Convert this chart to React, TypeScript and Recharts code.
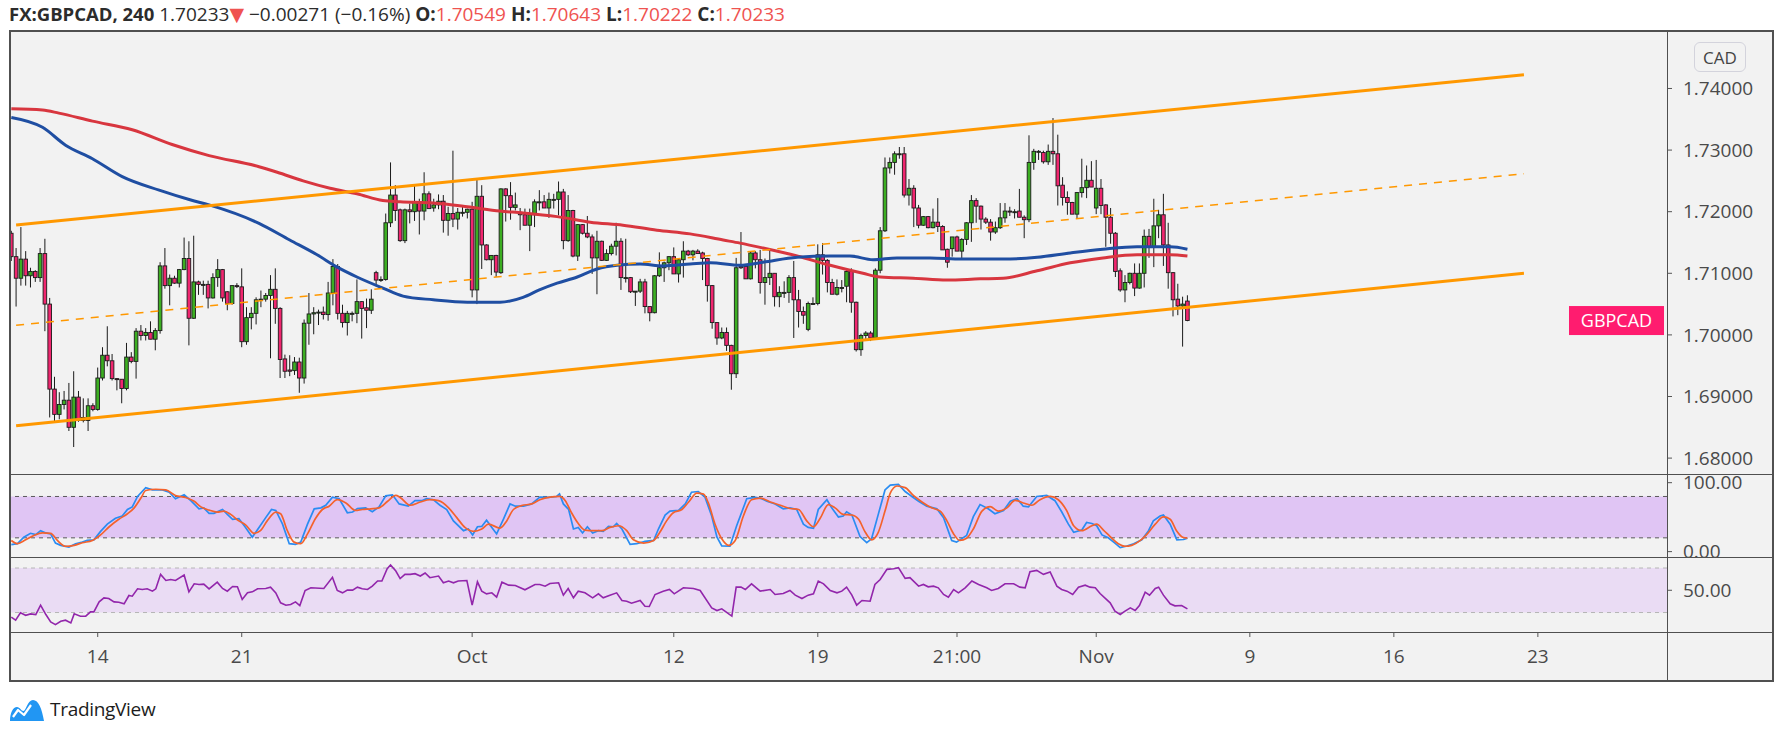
import React from 'react';
import {
  ComposedChart, Bar, Line, XAxis, YAxis, ReferenceLine, ReferenceArea,
} from 'recharts';

// FX:GBPCAD 4H candles (index 0 = first visible bar, Sep 10)
const OPEN = [
  1.7165, 1.7127, 1.7092, 1.7123, 1.7096, 1.7103, 1.7093, 1.7132, 1.7050, 1.6912,
  1.6871, 1.6887, 1.6894, 1.6850, 1.6899, 1.6866, 1.6861, 1.6885, 1.6879, 1.6930,
  1.6967, 1.6958, 1.6929, 1.6928, 1.6913, 1.6964, 1.6957, 1.7006, 1.6999, 1.7004,
  1.6993, 1.7007, 1.7112, 1.7080, 1.7092, 1.7084, 1.7106, 1.7124, 1.7027, 1.7086,
  1.7082, 1.7082, 1.7060, 1.7093, 1.7106, 1.7070, 1.7051, 1.7080, 1.7078, 1.6989,
  1.7028, 1.7035, 1.7058, 1.7058, 1.7064, 1.7074, 1.7043, 1.6961, 1.6943, 1.6942,
  1.6956, 1.6930, 1.7019, 1.7034, 1.7036, 1.7037, 1.7033, 1.7068, 1.7111, 1.7035,
  1.7020, 1.7035, 1.7035, 1.7054, 1.7044, 1.7040, 1.7101, 1.7089, 1.7090, 1.7182,
  1.7227, 1.7203, 1.7153, 1.7203, 1.7200, 1.7215, 1.7201, 1.7229, 1.7206, 1.7211,
  1.7217, 1.7186, 1.7197, 1.7188, 1.7199, 1.7199, 1.7204, 1.7073, 1.7225, 1.7146,
  1.7122, 1.7129, 1.7101, 1.7237, 1.7226, 1.7207, 1.7199, 1.7195, 1.7178, 1.7195,
  1.7216, 1.7216, 1.7206, 1.7220, 1.7220, 1.7232, 1.7153, 1.7202, 1.7128, 1.7179,
  1.7165, 1.7159, 1.7125, 1.7152, 1.7121, 1.7132, 1.7144, 1.7152, 1.7093, 1.7093,
  1.7071, 1.7071, 1.7086, 1.7046, 1.7036, 1.7096, 1.7109, 1.7117, 1.7127, 1.7099,
  1.7122, 1.7136, 1.7130, 1.7136, 1.7133, 1.7124, 1.7080, 1.7020, 1.6995, 1.7004,
  1.6983, 1.6937, 1.7111, 1.7111, 1.7091, 1.7133, 1.7122, 1.7085, 1.7093, 1.7100,
  1.7062, 1.7069, 1.7069, 1.7093, 1.7057, 1.7038, 1.7009, 1.7051, 1.7051, 1.7130,
  1.7121, 1.7085, 1.7066, 1.7077, 1.7079, 1.7103, 1.7053, 1.6976, 1.6999, 1.7003,
  1.6995, 1.7105, 1.7169, 1.7271, 1.7280, 1.7294, 1.7294, 1.7227, 1.7238, 1.7206,
  1.7178, 1.7192, 1.7174, 1.7183, 1.7176, 1.7139, 1.7140, 1.7159, 1.7136, 1.7155,
  1.7182, 1.7218, 1.7209, 1.7188, 1.7183, 1.7167, 1.7174, 1.7190, 1.7201, 1.7200,
  1.7201, 1.7191, 1.7187, 1.7280, 1.7298, 1.7296, 1.7281, 1.7298, 1.7294, 1.7243,
  1.7223, 1.7215, 1.7196, 1.7231, 1.7239, 1.7251, 1.7206, 1.7238, 1.7211, 1.7191,
  1.7165, 1.7104, 1.7073, 1.7085, 1.7100, 1.7076, 1.7100, 1.7160, 1.7143, 1.7177,
  1.7195, 1.7146, 1.7101, 1.7058, 1.7047, 1.70549,
];
const HIGH = [
  1.7169, 1.7141, 1.7175, 1.7136, 1.7109, 1.7105, 1.7141, 1.7156, 1.7060, 1.6932,
  1.6907, 1.6909, 1.6922, 1.6941, 1.6909, 1.6897, 1.6897, 1.6889, 1.6947, 1.6980,
  1.7014, 1.6969, 1.6930, 1.6928, 1.6987, 1.6972, 1.7011, 1.7016, 1.7011, 1.7022,
  1.7011, 1.7118, 1.7141, 1.7098, 1.7096, 1.7107, 1.7158, 1.7152, 1.7161, 1.7088,
  1.7088, 1.7088, 1.7100, 1.7123, 1.7107, 1.7071, 1.7080, 1.7084, 1.7108, 1.7045,
  1.7045, 1.7061, 1.7072, 1.7068, 1.7097, 1.7108, 1.7045, 1.6968, 1.6967, 1.6964,
  1.6963, 1.7025, 1.7068, 1.7045, 1.7041, 1.7046, 1.7086, 1.7123, 1.7115, 1.7049,
  1.7039, 1.7038, 1.7090, 1.7055, 1.7059, 1.7074, 1.7104, 1.7095, 1.7197, 1.7280,
  1.7243, 1.7205, 1.7205, 1.7213, 1.7243, 1.7221, 1.7264, 1.7233, 1.7221, 1.7228,
  1.7227, 1.7208, 1.7299, 1.7206, 1.7208, 1.7205, 1.7216, 1.7253, 1.7243, 1.7147,
  1.7129, 1.7130, 1.7238, 1.7238, 1.7248, 1.7231, 1.7206, 1.7205, 1.7205, 1.7220,
  1.7235, 1.7227, 1.7231, 1.7229, 1.7249, 1.7237, 1.7227, 1.7203, 1.7180, 1.7180,
  1.7193, 1.7163, 1.7169, 1.7153, 1.7139, 1.7148, 1.7182, 1.7157, 1.7156, 1.7094,
  1.7071, 1.7091, 1.7091, 1.7046, 1.7097, 1.7134, 1.7119, 1.7128, 1.7142, 1.7124,
  1.7152, 1.7138, 1.7138, 1.7139, 1.7135, 1.7125, 1.7081, 1.7020, 1.7012, 1.7012,
  1.6984, 1.7125, 1.7167, 1.7114, 1.7135, 1.7136, 1.7138, 1.7124, 1.7140, 1.7100,
  1.7079, 1.7087, 1.7097, 1.7120, 1.7073, 1.7046, 1.7054, 1.7061, 1.7147, 1.7149,
  1.7123, 1.7091, 1.7090, 1.7089, 1.7107, 1.7108, 1.7054, 1.7002, 1.7006, 1.7006,
  1.7108, 1.7175, 1.7288, 1.7288, 1.7298, 1.7305, 1.7305, 1.7253, 1.7243, 1.7211,
  1.7193, 1.7193, 1.7205, 1.7222, 1.7178, 1.7140, 1.7159, 1.7161, 1.7157, 1.7183,
  1.7227, 1.7222, 1.7210, 1.7191, 1.7188, 1.7184, 1.7214, 1.7214, 1.7208, 1.7204,
  1.7237, 1.7194, 1.7324, 1.7302, 1.7300, 1.7299, 1.7309, 1.7352, 1.7325, 1.7256,
  1.7233, 1.7216, 1.7232, 1.7286, 1.7275, 1.7282, 1.7284, 1.7253, 1.7212, 1.7206,
  1.7167, 1.7108, 1.7097, 1.7101, 1.7116, 1.7116, 1.7171, 1.7172, 1.7221, 1.7203,
  1.7229, 1.7182, 1.7102, 1.7083, 1.7062, 1.70643,
];
const LOW = [
  1.7120, 1.7046, 1.7080, 1.7080, 1.7077, 1.7086, 1.7086, 1.7006, 1.6866, 1.6859,
  1.6863, 1.6879, 1.6844, 1.6818, 1.6859, 1.6858, 1.6844, 1.6876, 1.6877, 1.6926,
  1.6949, 1.6926, 1.6910, 1.6889, 1.6910, 1.6954, 1.6929, 1.6991, 1.6991, 1.6993,
  1.6975, 1.7002, 1.7075, 1.7048, 1.7083, 1.7077, 1.7105, 1.6983, 1.7026, 1.7065,
  1.7065, 1.7043, 1.7059, 1.7078, 1.7054, 1.7040, 1.7049, 1.7076, 1.6980, 1.6984,
  1.7009, 1.7017, 1.7045, 1.7054, 1.6962, 1.7018, 1.6930, 1.6930, 1.6933, 1.6935,
  1.6906, 1.6921, 1.6984, 1.7001, 1.7016, 1.7025, 1.7023, 1.7048, 1.7025, 1.7012,
  1.6999, 1.7022, 1.7019, 1.6994, 1.7011, 1.7034, 1.7079, 1.7086, 1.7088, 1.7175,
  1.7185, 1.7151, 1.7149, 1.7181, 1.7185, 1.7163, 1.7186, 1.7205, 1.7200, 1.7204,
  1.7166, 1.7161, 1.7175, 1.7171, 1.7192, 1.7189, 1.7061, 1.7050, 1.7107, 1.7121,
  1.7097, 1.7094, 1.7099, 1.7184, 1.7187, 1.7202, 1.7170, 1.7178, 1.7136, 1.7175,
  1.7202, 1.7206, 1.7190, 1.7205, 1.7194, 1.7139, 1.7151, 1.7126, 1.7120, 1.7163,
  1.7157, 1.7099, 1.7066, 1.7120, 1.7120, 1.7129, 1.7129, 1.7073, 1.7085, 1.7068,
  1.7047, 1.7068, 1.7035, 1.7022, 1.7035, 1.7094, 1.7086, 1.7105, 1.7099, 1.7085,
  1.7093, 1.7128, 1.7121, 1.7132, 1.7089, 1.7054, 1.7010, 1.6984, 1.6993, 1.6974,
  1.6911, 1.6930, 1.7107, 1.7091, 1.7090, 1.7108, 1.7067, 1.7049, 1.7081, 1.7046,
  1.7045, 1.7060, 1.7052, 1.6995, 1.7012, 1.7018, 1.7006, 1.7049, 1.7048, 1.7098,
  1.7069, 1.7066, 1.7064, 1.7069, 1.7053, 1.7036, 1.6973, 1.6966, 1.6993, 1.6990,
  1.6993, 1.7100, 1.7167, 1.7262, 1.7260, 1.7286, 1.7223, 1.7210, 1.7175, 1.7173,
  1.7177, 1.7173, 1.7173, 1.7167, 1.7138, 1.7109, 1.7127, 1.7136, 1.7123, 1.7146,
  1.7151, 1.7182, 1.7171, 1.7180, 1.7153, 1.7164, 1.7172, 1.7182, 1.7193, 1.7189,
  1.7191, 1.7157, 1.7183, 1.7268, 1.7284, 1.7278, 1.7276, 1.7276, 1.7210, 1.7210,
  1.7195, 1.7196, 1.7189, 1.7223, 1.7222, 1.7240, 1.7196, 1.7196, 1.7143, 1.7148,
  1.7094, 1.7070, 1.7053, 1.7082, 1.7063, 1.7075, 1.7077, 1.7125, 1.7110, 1.7157,
  1.7112, 1.7075, 1.7030, 1.7032, 1.6981, 1.70222,
];
const CLOSE = [
  1.7127, 1.7092, 1.7123, 1.7096, 1.7103, 1.7093, 1.7132, 1.7050, 1.6912, 1.6871,
  1.6887, 1.6894, 1.6850, 1.6899, 1.6861, 1.6861, 1.6885, 1.6879, 1.6930, 1.6967,
  1.6958, 1.6929, 1.6928, 1.6913, 1.6964, 1.6957, 1.7006, 1.6999, 1.7004, 1.6993,
  1.7007, 1.7112, 1.7080, 1.7092, 1.7084, 1.7106, 1.7124, 1.7027, 1.7086, 1.7082,
  1.7082, 1.7060, 1.7093, 1.7106, 1.7060, 1.7051, 1.7080, 1.7079, 1.6989, 1.7028,
  1.7035, 1.7057, 1.7058, 1.7064, 1.7074, 1.7043, 1.6960, 1.6941, 1.6941, 1.6956,
  1.6930, 1.7019, 1.7034, 1.7036, 1.7037, 1.7033, 1.7068, 1.7111, 1.7035, 1.7020,
  1.7035, 1.7035, 1.7054, 1.7043, 1.7040, 1.7058, 1.7089, 1.7090, 1.7182, 1.7227,
  1.7202, 1.7153, 1.7203, 1.7200, 1.7215, 1.7201, 1.7229, 1.7205, 1.7211, 1.7217,
  1.7186, 1.7197, 1.7188, 1.7199, 1.7199, 1.7204, 1.7073, 1.7225, 1.7146, 1.7122,
  1.7129, 1.7102, 1.7237, 1.7226, 1.7207, 1.7211, 1.7195, 1.7178, 1.7195, 1.7216,
  1.7216, 1.7206, 1.7220, 1.7220, 1.7232, 1.7153, 1.7202, 1.7128, 1.7179, 1.7165,
  1.7159, 1.7125, 1.7152, 1.7121, 1.7132, 1.7144, 1.7152, 1.7093, 1.7093, 1.7070,
  1.7071, 1.7086, 1.7046, 1.7036, 1.7096, 1.7109, 1.7117, 1.7127, 1.7099, 1.7122,
  1.7136, 1.7130, 1.7136, 1.7132, 1.7124, 1.7080, 1.7020, 1.6995, 1.7004, 1.6983,
  1.6937, 1.7109, 1.7109, 1.7091, 1.7133, 1.7122, 1.7085, 1.7093, 1.7100, 1.7062,
  1.7069, 1.7069, 1.7093, 1.7057, 1.7038, 1.7032, 1.7051, 1.7051, 1.7130, 1.7121,
  1.7085, 1.7066, 1.7077, 1.7077, 1.7103, 1.7053, 1.6976, 1.6999, 1.7003, 1.6995,
  1.7105, 1.7169, 1.7271, 1.7280, 1.7294, 1.7294, 1.7227, 1.7238, 1.7206, 1.7178,
  1.7192, 1.7174, 1.7183, 1.7176, 1.7138, 1.7118, 1.7159, 1.7136, 1.7155, 1.7182,
  1.7218, 1.7209, 1.7188, 1.7183, 1.7167, 1.7174, 1.7190, 1.7201, 1.7200, 1.7200,
  1.7191, 1.7187, 1.7280, 1.7298, 1.7298, 1.7281, 1.7298, 1.7294, 1.7242, 1.7223,
  1.7215, 1.7196, 1.7231, 1.7239, 1.7251, 1.7240, 1.7238, 1.7210, 1.7191, 1.7165,
  1.7103, 1.7073, 1.7085, 1.7100, 1.7076, 1.7100, 1.7160, 1.7143, 1.7177, 1.7195,
  1.7146, 1.7101, 1.7057, 1.7047, 1.7050, 1.70233,
];

// moving averages, [bar index, price]
const MA_SLOW: [number, number][] = [
  [0, 1.7367], [6.5, 1.7365], [9.9, 1.7360], [16.9, 1.7347], [25.2, 1.7333], [33.5, 1.7309],
  [41.2, 1.7291], [51.6, 1.7273], [55.4, 1.7264], [60.8, 1.7250], [66.4, 1.7238], [72, 1.7229],
  [77.4, 1.7218], [81, 1.7216], [87.9, 1.7214], [95, 1.7208], [101.8, 1.7201], [106.6, 1.7198],
  [113.7, 1.7192], [120.6, 1.7183], [127.4, 1.7178], [134.5, 1.7170], [141.4, 1.7164], [148.3, 1.7154],
  [151.8, 1.7149], [156.6, 1.7141], [163.7, 1.7128], [170.6, 1.7113], [177.4, 1.7100], [181, 1.7094],
  [187.9, 1.7092], [194.9, 1.7089], [201.8, 1.7091], [206.6, 1.7092], [213.7, 1.7104], [220.6, 1.7117],
  [227.4, 1.7125], [234.5, 1.7130], [241.4, 1.7130], [245, 1.7128],
];
const MA_FAST: [number, number][] = [
  [0, 1.7353], [6.5, 1.7337], [11.3, 1.7308], [16.9, 1.7286], [23.1, 1.7257], [30.8, 1.7235],
  [37.4, 1.7219], [41.2, 1.7211], [51.6, 1.7181], [58, 1.7154], [63.7, 1.7130], [67.9, 1.7110],
  [72, 1.7094], [77.4, 1.7076], [81.6, 1.7063], [87.9, 1.7057], [95, 1.7053], [101.8, 1.7053],
  [106.6, 1.7061], [110, 1.7073], [113.7, 1.7084], [117.9, 1.7094], [122, 1.7107], [126.2, 1.7113],
  [131, 1.7115], [135.8, 1.7112], [141.4, 1.7115], [145.6, 1.7117], [151.8, 1.7113], [156.6, 1.7118],
  [163.7, 1.7126], [170.6, 1.7128], [174.7, 1.7128], [179.5, 1.7122], [184.5, 1.7125], [191.4, 1.7125],
  [198, 1.7123], [206.6, 1.7123], [213.7, 1.7126], [220.6, 1.7133], [227.4, 1.7139], [234.5, 1.7143],
  [241.4, 1.7143], [245, 1.7139],
];

// drawn channel: [start, end] as [bar index, price]
const CHANNEL_UPPER: [number, number][] = [[1, 1.71784], [315.1, 1.74224]];
const CHANNEL_MID: [number, number][] = [[1, 1.70156], [315.1, 1.72617]];
const CHANNEL_LOWER: [number, number][] = [[1, 1.68526], [315.1, 1.71000]];

// stochastic %K / %D and RSI, [bar index, value]
const STOCH_K: [number, number][] = [
  [0, 10.1], [1.3, 11.5], [2.6, 20.9], [4, 26.6], [5.1, 24.7], [6.1, 30.4], [7.2, 27.1], [8.2, 25.7],
  [9.2, 12.4], [10.3, 9.1], [12, 6.7], [13.4, 11.5], [14.8, 13.8], [15.8, 16.2], [17.2, 17.1], [18.6, 29.4],
  [20, 39.8], [21.7, 48.4], [23.1, 51.7], [24.2, 61.1], [25.2, 64.9], [26.3, 80], [28, 92.8], [29.4, 89.5],
  [31.5, 89.5], [32.9, 86.2], [34.2, 76.7], [36, 82.4], [37.4, 73.9], [39.1, 62.1], [40.1, 63.5], [41.2, 55.5],
  [42.2, 55.5], [44, 61.1], [45, 54], [46.1, 46.9], [47.4, 47.9], [48.8, 35.1], [50.2, 20.9], [51.6, 35.1],
  [53, 49.3], [54.2, 61.1], [55.1, 59.7], [56.5, 39.8], [57.9, 11.5], [59.2, 10.5], [60.3, 13.8], [61.7, 39.8],
  [63.1, 62.1], [64.5, 63.5], [65.5, 67.3], [66.9, 79.1], [68.3, 76.7], [70, 56.4], [71.1, 57.4], [72.1, 62.6],
  [73.8, 63.5], [75.2, 57.8], [76.6, 64.9], [78, 81], [79.4, 82.4], [80.8, 69.2], [82.7, 65.9], [84.1, 73.9],
  [85.5, 73.9], [86.5, 76.7], [87.9, 75.3], [89.3, 67.3], [90.7, 61.1], [92.1, 44.6], [94.2, 30.4], [95.2, 32.8],
  [96.1, 24.2], [97.1, 36.1], [98, 36.5], [99, 45.5], [100.1, 35.1], [101.1, 25.7], [102.5, 46.9], [103.9, 69.2],
  [105, 65.9], [106.7, 65.9], [108.4, 69.2], [110.1, 79.1], [111.9, 78.6], [113.6, 80], [114.2, 83.8], [115, 69.2],
  [116.1, 61.1], [117.1, 32.8], [118.1, 35.1], [119, 27.1], [120, 36.1], [121.1, 27.1], [122.3, 30.4], [123.3, 29.4],
  [124.4, 36.5], [125.4, 36.1], [126.1, 40.8], [127.2, 32.8], [128.9, 10.5], [130.3, 11.5], [132, 14.8], [133.8, 16.2],
  [134.8, 32.8], [136.2, 53.1], [137.2, 58.8], [139, 59.7], [140.4, 69.2], [141.7, 86.2], [143.1, 87.2], [144.5, 79.1],
  [145.9, 51.7], [147, 20.9], [148, 8.2], [149.7, 7.8], [151.1, 37.5], [153.2, 76.7], [155, 78.6], [156.3, 76.7],
  [157.4, 73], [159.1, 69.2], [160.8, 62.1], [162.2, 63.5], [163.6, 61.1], [165, 39.8], [166, 35.1], [167.1, 33.7],
  [168.1, 61.1], [169.9, 75.3], [170.9, 63.5], [172.3, 50.3], [173.3, 51.7], [174, 57.8], [175.1, 53.1], [176.8, 21.9],
  [178.2, 12.9], [179.2, 18.6], [180.6, 54], [182, 89.5], [183.1, 96.6], [184.8, 97.6], [186.2, 87.2], [187.6, 80],
  [189, 73], [190.7, 65.9], [192.8, 62.1], [194.2, 49.3], [195.9, 16.2], [196.9, 13.8], [199, 23.3], [200.4, 50.7],
  [201.8, 68.2], [203.5, 62.1], [204.9, 55], [206.7, 59.7], [208.1, 73], [209.5, 76.7], [210.8, 65.9], [211.9, 64.9],
  [213.6, 80], [215.7, 81.5], [217.4, 73.9], [218.8, 57.8], [220.2, 39.8], [221.3, 28], [223, 31.3], [224, 42.2],
  [225.1, 40.8], [226.1, 37.5], [227.2, 24.2], [228.5, 20], [229.9, 12.4], [231, 5.8], [232.4, 8.2], [233.8, 11.5],
  [235.5, 17.1], [236.9, 30.4], [237.9, 44.6], [239.3, 51.7], [240, 53.1], [241.4, 39.8], [242.8, 17.1], [244.2, 17.6],
  [245, 19.5],
];
const STOCH_D: [number, number][] = [
  [0, 16.2], [1.3, 11.5], [3, 17.1], [4.7, 23.3], [6.5, 27.1], [8.2, 26.6], [9.6, 16.2], [11.3, 7.8],
  [13.1, 9.1], [14.8, 12.9], [16.9, 16.2], [18.6, 24.2], [20.4, 36.1], [22.4, 46.9], [24.2, 55], [25.6, 63.5],
  [27, 77.7], [28, 88.6], [30.1, 90.5], [32.2, 89.5], [34.2, 81.5], [36.3, 78.6], [38.1, 73], [39.5, 64.9],
  [41.2, 60.2], [42.9, 57.4], [44.3, 58.8], [45.7, 54], [47.4, 44.6], [48.8, 38.9], [50.6, 26.6], [51.9, 30.4],
  [53.3, 44.6], [55.1, 57.4], [56.1, 55], [57.5, 30.4], [58.9, 13.8], [60.3, 11.5], [61.7, 25.7], [63.4, 48.4],
  [64.8, 61.1], [66.2, 65.9], [67.9, 75.3], [69.7, 70.6], [71.7, 59.7], [73.1, 61.1], [74.9, 62.1], [76.6, 63.5],
  [78.4, 73], [80.1, 81.5], [81, 78.6], [83.1, 67.3], [85.2, 72], [87.2, 75.3], [89, 73.9], [91.1, 63.5],
  [92.8, 49.3], [94.5, 35.1], [96.3, 29.4], [98, 32.8], [99.4, 39.8], [101.8, 34.2], [103.2, 44.6], [104.6, 61.1],
  [106.3, 66.8], [108.4, 69.2], [110.1, 75.3], [112.2, 79.1], [114.2, 80], [115.4, 73.9], [116.7, 56.4], [118.1, 40.8],
  [119.5, 31.3], [121.3, 30.4], [123, 30.4], [124.7, 35.1], [126.5, 37.5], [128.2, 30.4], [129.6, 17.1], [131.7, 12.4],
  [133.8, 16.2], [135.1, 28], [136.5, 44.6], [137.9, 56.4], [139.7, 61.1], [141.1, 72], [142.8, 84.8], [144.2, 83.4],
  [145.2, 70.6], [146.6, 39.8], [148, 18.6], [149.4, 9.1], [150.8, 16.2], [152.5, 51.7], [154.2, 75.3], [156, 77.7],
  [158.1, 72], [160.2, 67.3], [162.2, 62.6], [164, 61.1], [165.7, 44.6], [167.1, 36.1], [168.5, 48.4], [170.2, 68.2],
  [171.6, 63.5], [173.3, 54], [175.1, 53.1], [176.5, 46.9], [177.9, 28], [179.2, 17.1], [180.6, 28], [182, 58.8],
  [183.1, 84.8], [184.5, 95.2], [186.2, 92.8], [187.9, 81.5], [189.7, 72], [191.7, 63.5], [193.5, 58.8], [194.9, 44.6],
  [196.3, 25.7], [197.6, 16.2], [199, 19.5], [200.4, 32.8], [202.2, 58.8], [203.9, 65.4], [205.6, 58.8], [207.4, 63.5],
  [209.1, 74.4], [210.8, 70.6], [212.6, 67.3], [214.3, 75.3], [216.4, 80], [218.1, 75.3], [219.9, 58.8], [221.3, 37.5],
  [223, 30.4], [225.1, 37.5], [226.1, 39.8], [227.5, 31.3], [228.9, 21.9], [230.6, 11.5], [232, 7.8], [233.4, 9.1],
  [235.2, 16.2], [236.5, 24.7], [238.3, 39.8], [240, 50.3], [241.4, 46.9], [242.8, 29.4], [244, 20.9], [245, 19.5],
];
const RSI: [number, number][] = [
  [0, 25.8], [0.9, 23.1], [1.9, 29.7], [3, 27.5], [4, 28.8], [5.1, 28.2], [6.1, 36.6], [7.2, 28.2],
  [8.2, 21.5], [9.2, 19.1], [10.3, 22.1], [11.3, 23.1], [12.4, 20.6], [13.1, 28.8], [14.4, 26.7], [15.5, 26.7],
  [16.5, 30.6], [17.2, 30.6], [18.3, 39.6], [19.3, 43.2], [20.3, 42.6], [21.4, 39.6], [22.4, 39.3], [23.5, 37.8],
  [24.5, 45.3], [25.2, 44.7], [26.3, 51.3], [27.3, 50.7], [28.3, 51.3], [29.4, 49.2], [30.1, 51.3], [31.1, 64.3],
  [32.2, 58.8], [33.2, 59.7], [34.2, 58.8], [36, 63.7], [37, 48.6], [38.1, 55.8], [39.1, 55.2], [40.1, 55.5],
  [41.2, 51.3], [42.9, 57.3], [44, 51.6], [45, 49.2], [46.1, 53.4], [47.1, 53.1], [48.1, 41.7], [49.2, 47.7],
  [50.2, 48.6], [51.3, 51.3], [53, 51.6], [54, 52.8], [55.1, 47.7], [56.1, 38.7], [57.2, 36.6], [58.2, 37.2],
  [59.2, 39.6], [60.1, 36.3], [61.2, 49.8], [62.4, 52.2], [65.1, 51.6], [66.9, 61.6], [67.9, 49.8], [69, 47.7],
  [70, 50.1], [71.1, 50.1], [72.1, 52.8], [73.1, 51.3], [74.2, 50.7], [75.2, 53.7], [76.3, 58.3], [77.2, 58.3],
  [78.3, 69.4], [79, 72.7], [80.1, 67.3], [81, 60.5], [82, 64.3], [83.1, 64.3], [84.1, 64.9], [85.2, 62.8],
  [86.2, 65.5], [87.2, 61.3], [89, 62.8], [90, 56.7], [91.1, 58.3], [92.1, 56.7], [93.1, 58.3], [94.9, 58.8],
  [96, 36.6], [97.1, 57.6], [98, 49.2], [99, 46.8], [100.1, 47.7], [101.1, 43.8], [102.2, 57.3], [103.6, 54.6],
  [105, 54.3], [107, 50.4], [109.1, 55.2], [110.1, 55.2], [111.2, 53.7], [112.2, 56.1], [114, 56.7], [115, 45.6],
  [116, 51.6], [117.1, 43.2], [118.1, 49.2], [119.5, 47.7], [121.1, 43.2], [122.3, 46.8], [123.3, 43.2], [124.7, 45.6],
  [126.1, 47.7], [127.2, 40.8], [128.2, 40.2], [129.2, 38.4], [131, 40.8], [132, 35.7], [132.9, 35.4], [134.1, 46.2],
  [135.8, 49.2], [137.1, 50.7], [138.1, 46.8], [140, 52.2], [142.1, 51.6], [143.5, 49.8], [145.9, 34.2], [147, 31.8],
  [148, 33.3], [150.1, 26.7], [151, 52.8], [152, 52.8], [152.9, 50.7], [154.2, 55.8], [156, 49.2], [158.1, 50.7],
  [159.1, 46.2], [160.8, 47.1], [162.2, 49.8], [163.3, 45.6], [164.7, 42.6], [166, 45.6], [167.1, 46.8], [168.1, 58.3],
  [169.2, 55.8], [170.6, 49.8], [172, 47.7], [173, 49.2], [174, 52.8], [175.1, 45.6], [176.1, 36.6], [177.2, 40.8],
  [178.9, 40.2], [179.9, 55.2], [181, 59.7], [182.4, 68.8], [183.8, 69.4], [184.8, 70.3], [186.2, 60.7], [187.2, 61.3],
  [189, 53.7], [190, 55.2], [191, 53.1], [192.1, 53.7], [193.1, 52.2], [194.2, 46.2], [195.2, 43.8], [196.3, 50.7],
  [197.3, 47.7], [198.7, 52.2], [200.1, 58.3], [201.5, 55.2], [203.2, 52.2], [204.2, 49.8], [205.6, 51.6], [207, 55.8],
  [208.8, 55.8], [210.1, 52.8], [211.2, 52.2], [212.2, 66.7], [213.6, 67.9], [215, 64.3], [216.4, 66.4], [217.8, 53.7],
  [218.8, 50.7], [219.9, 49.2], [221.1, 46.2], [222.3, 52.8], [223.7, 54.6], [224.7, 52.8], [225.8, 52.2], [226.8, 47.1],
  [228.9, 38.7], [229.9, 31.2], [231, 28.2], [232, 31.2], [233.1, 34.2], [234.1, 31.8], [235, 36.3], [236.2, 48.3],
  [237.1, 45.6], [238.3, 51.6], [239, 52.8], [240, 45.6], [241.4, 37.8], [242.4, 36], [243.8, 36.3], [245, 33.3],
];

const PRICE_TICKS = [1.68, 1.69, 1.7, 1.71, 1.72, 1.73, 1.74];
const TIME_TICKS = [18, 48, 96, 138, 168, 197, 226, 258, 288, 318];
const TIME_LABELS = ['14', '21', 'Oct', '12', '19', '21:00', 'Nov', '9', '16', '23'];
const SYMBOL = 'GBPCAD';

const X_DOMAIN: [number, number] = [-0.48, 344.9];
const PRICE_DOMAIN: [number, number] = [1.67742, 1.74933];
const STOCH_DOMAIN: [number, number] = [-7.8, 112.6];
const RSI_DOMAIN: [number, number] = [12.5, 79.9];

const FONT = '"Open Sans", "DejaVu Sans", sans-serif';
const GREEN = '#3cae22';
const PINK = '#f0266f';
const WICK = '#1b1b1b';
const AXIS_TEXT = '#4a4a4a';
const FRAME = '#505050';
const CHART_W = 1764;
const AXIS_W = 106;

const candles = OPEN.map((o, i) => ({
  x: i, o, h: HIGH[i], l: LOW[i], c: CLOSE[i], range: [LOW[i], HIGH[i]],
}));
const pts = (arr: [number, number][]) => arr.map(([x, v]) => ({ x, v }));
const LAST_CLOSE = CLOSE[CLOSE.length - 1];

const Candle = (props: any) => {
  let { x, y, width, height, payload } = props;
  if (x == null || y == null || !payload) return null;
  if (height < 0) { y += height; height = -height; }
  const { o, h, l, c } = payload;
  const cx = x + width / 2;
  const span = h - l || 1e-9;
  const py = (v: number) => y + ((h - v) / span) * height;
  const top = py(Math.max(o, c));
  const bot = py(Math.min(o, c));
  return (
    <g>
      <line x1={cx} x2={cx} y1={y} y2={y + height} stroke={WICK} strokeWidth={1} />
      <rect x={cx - 1.8} y={top} width={3.6} height={Math.max(bot - top, 1)}
        fill={c >= o ? GREEN : PINK} stroke={WICK} strokeWidth={0.9} />
    </g>
  );
};

const SymbolTag = (props: any) => {
  const vb = props.viewBox;
  if (!vb) return null;
  const right = vb.x + vb.width - 3;
  return (
    <g>
      <rect x={right - 95} y={vb.y - 14.5} width={95} height={29} fill="#ff1c6f" />
      <text x={right - 47.5} y={vb.y} dy="0.36em" textAnchor="middle" fill="#fff" fontSize={18}>{SYMBOL}</text>
    </g>
  );
};

const seg = (s: [number, number][]) => s.map(([x, y]) => ({ x, y }));

const yAxisCommon = {
  orientation: 'right' as const,
  width: AXIS_W,
  allowDataOverflow: true,
  axisLine: false,
  tickSize: 5,
  tickMargin: 11,
  tickLine: { stroke: '#555' },
  tick: { fill: AXIS_TEXT, fontSize: 19 },
  interval: 0 as const,
};

function PriceChart() {
  return (
    <ComposedChart width={CHART_W} height={443} data={candles} margin={{ top: 0, right: 0, bottom: 0, left: 0 }}>
      <XAxis type="number" dataKey="x" domain={X_DOMAIN} allowDataOverflow hide />
      <YAxis {...yAxisCommon} domain={PRICE_DOMAIN} ticks={PRICE_TICKS} tickFormatter={(v: number) => v.toFixed(5)} />
      <Bar dataKey="range" barSize={2.8} isAnimationActive={false} shape={(p: any) => <Candle {...p} />} />
      <Line data={pts(MA_SLOW)} dataKey="v" type="monotone" stroke="#d8363f" strokeWidth={3} dot={false} activeDot={false} isAnimationActive={false} />
      <Line data={pts(MA_FAST)} dataKey="v" type="monotone" stroke="#1f4ea2" strokeWidth={3} dot={false} activeDot={false} isAnimationActive={false} />
      <ReferenceLine segment={seg(CHANNEL_UPPER)} stroke="#ff9800" strokeWidth={3} ifOverflow="visible" />
      <ReferenceLine segment={seg(CHANNEL_LOWER)} stroke="#ff9800" strokeWidth={3} ifOverflow="visible" />
      <ReferenceLine segment={seg(CHANNEL_MID)} stroke="#ff9800" strokeWidth={1.6} strokeDasharray="8 7" ifOverflow="visible" />
      <ReferenceLine y={LAST_CLOSE} stroke="none" strokeOpacity={0} label={<SymbolTag />} />
    </ComposedChart>
  );
}

function StochChart() {
  return (
    <ComposedChart width={CHART_W} height={83} margin={{ top: 0, right: 0, bottom: 0, left: 0 }}>
      <XAxis type="number" dataKey="x" domain={X_DOMAIN} allowDataOverflow hide />
      <YAxis {...yAxisCommon} domain={STOCH_DOMAIN} ticks={[0, 100]} tickFormatter={(v: number) => v.toFixed(2)} />
      <ReferenceArea y1={20} y2={80} fill="#e0c5f4" fillOpacity={1} stroke="none" />
      <ReferenceLine y={80} stroke="#5a5a5a" strokeDasharray="4 4" />
      <ReferenceLine y={20} stroke="#5a5a5a" strokeDasharray="4 4" />
      <Line data={pts(STOCH_K)} dataKey="v" type="linear" stroke="#2a8cf2" strokeWidth={1.7} dot={false} activeDot={false} isAnimationActive={false} />
      <Line data={pts(STOCH_D)} dataKey="v" type="monotone" stroke="#f4622c" strokeWidth={1.7} dot={false} activeDot={false} isAnimationActive={false} />
    </ComposedChart>
  );
}

function RsiChart() {
  return (
    <ComposedChart width={CHART_W} height={124} margin={{ top: 0, right: 0, bottom: 0, left: 0 }}>
      <XAxis type="number" dataKey="x" domain={X_DOMAIN} allowDataOverflow ticks={TIME_TICKS} interval={0}
        tickFormatter={(v: number) => TIME_LABELS[TIME_TICKS.indexOf(v)]} height={49}
        axisLine={false} tickSize={5} tickMargin={13} tickLine={{ stroke: '#555' }}
        tick={{ fill: AXIS_TEXT, fontSize: 19 }} />
      <YAxis {...yAxisCommon} domain={RSI_DOMAIN} ticks={[50]} tickFormatter={(v: number) => v.toFixed(2)} />
      <ReferenceArea y1={30} y2={70} fill="#eadcf4" fillOpacity={1} stroke="none" />
      <ReferenceLine y={70} stroke="#b5b5b5" strokeDasharray="4 4" />
      <ReferenceLine y={30} stroke="#b5b5b5" strokeDasharray="4 4" />
      <Line data={pts(RSI)} dataKey="v" type="linear" stroke="#9226ab" strokeWidth={1.6} dot={false} activeDot={false} isAnimationActive={false} />
    </ComposedChart>
  );
}

const red = { color: '#ef5350' };

function Header() {
  return (
    <div style={{ position: 'absolute', left: 9, top: 2, fontSize: 19, lineHeight: '24px', color: '#2c2c2c', whiteSpace: 'nowrap' }}>
      <b style={{ fontSize: 18.5 }}>FX:GBPCAD, 240</b> 1.70233<span style={red}>▼</span>&nbsp;−0.00271 (−0.16%)&nbsp;
      <b>O:</b><span style={red}>1.70549</span>&nbsp;
      <b>H:</b><span style={red}>1.70643</span>&nbsp;
      <b>L:</b><span style={red}>1.70222</span>&nbsp;
      <b>C:</b><span style={red}>1.70233</span>
    </div>
  );
}

function Logo() {
  return (
    <div style={{ position: 'absolute', left: 9, top: 696, display: 'flex', alignItems: 'center', gap: 5 }}>
      <svg width={36} height={23} viewBox="0 0 36 23">
        <path d="M1 23 C1 15 4 9 8 9 C11 9 12 13 14.5 13 C17 13 18.5 2 24 2 C29.5 2 33 11 35 23 Z" fill="#2196f3" />
        <polyline points="4,19 9,12 15,17 22,7" fill="none" stroke="#fff" strokeWidth={2.2} strokeLinejoin="round" />
      </svg>
      <span style={{ fontSize: 19, color: '#1c1c1c', letterSpacing: -0.3 }}>TradingView</span>
    </div>
  );
}

const hLine = (top: number) => (
  <div style={{ position: 'absolute', left: 9, top, width: 1765, height: 1, background: FRAME }} />
);

export default function App() {
  return (
    <div style={{ position: 'absolute', left: 0, top: 0, width: 1783, height: 736, background: '#fff', fontFamily: FONT, overflow: 'hidden' }}>
      <Header />
      <div style={{ position: 'absolute', left: 9, top: 30, width: 1765, height: 652, background: '#f2f2f2' }} />
      <div style={{ position: 'absolute', left: 9, top: 31, width: CHART_W, height: 443, overflow: 'hidden' }}>
        <PriceChart />
      </div>
      <div style={{ position: 'absolute', left: 9, top: 474, width: CHART_W, height: 83, overflow: 'hidden' }}>
        <StochChart />
      </div>
      <div style={{ position: 'absolute', left: 9, top: 557, width: CHART_W, height: 124, overflow: 'hidden' }}>
        <RsiChart />
      </div>
      {hLine(474)}
      {hLine(557)}
      {hLine(632)}
      <div style={{ position: 'absolute', left: 1667, top: 31, width: 1, height: 650, background: FRAME }} />
      <div style={{ position: 'absolute', left: 9, top: 30, width: 1765, height: 652, border: `2px solid ${FRAME}`, boxSizing: 'border-box' }} />
      <div style={{ position: 'absolute', left: 1694, top: 42, width: 52, height: 30, border: '1px solid #d3d3dc', borderRadius: 6, boxSizing: 'border-box', fontSize: 17, color: '#444', display: 'flex', alignItems: 'center', justifyContent: 'center' }}>CAD</div>
      <Logo />
    </div>
  );
}
